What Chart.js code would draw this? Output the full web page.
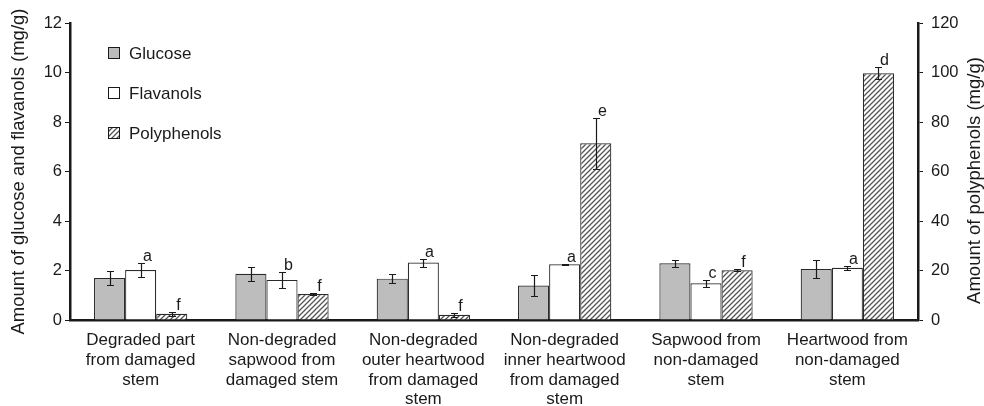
<!DOCTYPE html>
<html lang="en">
<head>
  <meta charset="UTF-8">
  <title>Glucose, flavanols and polyphenols</title>
  <script src="https://cdn.jsdelivr.net/npm/chart.js"></script>
  <style>
    body { margin: 0; background: #fff; }
    #wrap { width: 984px; height: 406px; }
  </style>
</head>
<body>
  <div id="wrap"><canvas id="chart"></canvas></div>

  <script>
    const categories = [
      ['Degraded part', 'from damaged', 'stem'],
      ['Non-degraded', 'sapwood from', 'damaged stem'],
      ['Non-degraded', 'outer heartwood', 'from damaged', 'stem'],
      ['Non-degraded', 'inner heartwood', 'from damaged', 'stem'],
      ['Sapwood from', 'non-damaged', 'stem'],
      ['Heartwood from', 'non-damaged', 'stem']
    ];
    const glucose = [1.70, 1.87, 1.67, 1.39, 2.29, 2.06];
    const glucoseErr = [0.28, 0.28, 0.18, 0.41, 0.13, 0.36];
    const flavanols = [2.02, 1.62, 2.32, 2.25, 1.48, 2.11];
    const flavanolsErr = [0.27, 0.32, 0.16, 0.03, 0.13, 0.07];
    const polyphenols = [2.5, 10.5, 2.1, 71.4, 20.1, 99.7];
    const polyphenolsErr = [0.8, 0.5, 0.8, 10.2, 0.5, 2.5];
    const flavanolsLetters = ['a', 'b', 'a', 'a', 'c', 'a'];
    const polyphenolsLetters = ['f', 'f', 'f', 'e', 'f', 'd'];
    const leftTicks = [0, 2, 4, 6, 8, 10, 12];
    const rightTicks = [0, 20, 40, 60, 80, 100, 120];
    const leftTitle = 'Amount of glucose and flavanols (mg/g)';
    const rightTitle = 'Amount of polyphenols (mg/g)';

    const FONT = '"Liberation Sans", Arial, Helvetica, sans-serif';
    const INK = '#1a1a1a';

    function hatch() {
      const c = document.createElement('canvas');
      c.width = 5; c.height = 5;
      const g = c.getContext('2d');
      g.fillStyle = '#fff';
      g.fillRect(0, 0, 5, 5);
      g.strokeStyle = '#555';
      g.lineWidth = 1.3;
      g.beginPath();
      g.moveTo(-1, 6); g.lineTo(6, -1);
      g.moveTo(-1, 1); g.lineTo(1, -1);
      g.moveTo(4, 6); g.lineTo(6, 4);
      g.stroke();
      return g.createPattern(c, 'repeat');
    }
    const hatchFill = hatch();

    const errors = [glucoseErr, flavanolsErr, polyphenolsErr];
    const letters = [null, flavanolsLetters, polyphenolsLetters];

    const errorBars = {
      id: 'errorBars',
      afterDatasetsDraw(chart) {
        const ctx = chart.ctx;
        ctx.save();
        ctx.strokeStyle = INK;
        ctx.lineWidth = 1.2;
        ctx.fillStyle = INK;
        ctx.font = '16px ' + FONT;
        ctx.textAlign = 'center';
        ctx.textBaseline = 'bottom';
        chart.data.datasets.forEach((ds, i) => {
          const meta = chart.getDatasetMeta(i);
          const scale = chart.scales[ds.yAxisID];
          meta.data.forEach((bar, j) => {
            const v = ds.data[j], e = errors[i][j];
            const x = Math.round(bar.x) + 0.5;
            const yTop = Math.round(scale.getPixelForValue(v + e)) + 0.5;
            const yBot = Math.round(scale.getPixelForValue(v - e)) + 0.5;
            ctx.beginPath();
            ctx.moveTo(x, yTop); ctx.lineTo(x, yBot);
            ctx.moveTo(x - 3.5, yTop); ctx.lineTo(x + 3.5, yTop);
            ctx.moveTo(x - 3.5, yBot); ctx.lineTo(x + 3.5, yBot);
            ctx.stroke();
            if (letters[i]) {
              ctx.fillText(letters[i][j], x + 6, yTop + 1);
            }
          });
        });
        ctx.restore();
      }
    };

    const boxLegend = {
      id: 'boxLegend',
      afterDraw(chart) {
        const ctx = chart.ctx;
        ctx.save();
        ctx.font = '17px ' + FONT;
        ctx.textBaseline = 'middle';
        ctx.textAlign = 'left';
        chart.data.datasets.forEach((ds, i) => {
          const y = 53 + i * 40;
          ctx.fillStyle = ds.backgroundColor;
          ctx.fillRect(108.5, y - 5.5, 11, 11);
          ctx.strokeStyle = INK;
          ctx.lineWidth = 1;
          ctx.strokeRect(108.5, y - 5.5, 11, 11);
          ctx.fillStyle = INK;
          ctx.fillText(ds.label, 129, y + 1);
        });
        ctx.restore();
      }
    };

    // both axis titles read bottom-to-top, as in the figure
    const axisTitles = {
      id: 'axisTitles',
      afterDraw(chart) {
        const ctx = chart.ctx;
        const a = chart.chartArea;
        ctx.save();
        ctx.font = '18.5px ' + FONT;
        ctx.fillStyle = INK;
        ctx.textAlign = 'center';
        ctx.textBaseline = 'middle';
        [[19, (a.top + a.bottom) / 2, leftTitle], [975, (a.top + a.bottom) / 2 + 9, rightTitle]].forEach(([x, y, t]) => {
          ctx.save();
          ctx.translate(x, y);
          ctx.rotate(-Math.PI / 2);
          ctx.fillText(t, 0, 0);
          ctx.restore();
        });
        ctx.restore();
      }
    };

    const barStyle = { borderColor: '#2a2a2a', borderWidth: 1.2, borderSkipped: 'bottom',
      categoryPercentage: 0.66, barPercentage: 1.0 };

    new Chart(document.getElementById('chart'), {
      type: 'bar',
      data: {
        labels: categories,
        datasets: [
          Object.assign({ label: 'Glucose', data: glucose, backgroundColor: '#bdbdbd', yAxisID: 'y' }, barStyle),
          Object.assign({ label: 'Flavanols', data: flavanols, backgroundColor: '#ffffff', yAxisID: 'y' }, barStyle),
          Object.assign({ label: 'Polyphenols', data: polyphenols, backgroundColor: hatchFill, yAxisID: 'y2' }, barStyle)
        ]
      },
      options: {
        responsive: true,
        maintainAspectRatio: false,
        animation: false,
        layout: { padding: { top: 23, right: 0, bottom: 0, left: 0 } },
        plugins: { legend: { display: false }, tooltip: { enabled: false } },
        scales: {
          x: {
            grid: { display: false },
            border: { display: true, width: 2.5, color: INK },
            ticks: { color: INK, font: { size: 17, family: FONT, lineHeight: 1.15 }, maxRotation: 0, autoSkip: false, padding: 3 },
            afterFit(s) { s.height = 86; }
          },
          y: {
            position: 'left',
            min: 0, max: 12,
            afterBuildTicks(s) { s.ticks = leftTicks.map(v => ({ value: v })); },
            grid: { display: true, drawOnChartArea: false, drawTicks: true, tickLength: 5, color: INK, tickWidth: 1 },
            border: { display: true, width: 2.5, color: INK },
            ticks: { color: INK, font: { size: 16.5, family: FONT }, padding: 3 },
            afterFit(s) { s.width = 70; }
          },
          y2: {
            position: 'right',
            min: 0, max: 120,
            afterBuildTicks(s) { s.ticks = rightTicks.map(v => ({ value: v })); },
            grid: { display: true, drawOnChartArea: false, drawTicks: true, tickLength: 5, color: INK, tickWidth: 1 },
            border: { display: true, width: 2.5, color: INK },
            ticks: { color: INK, font: { size: 16.5, family: FONT }, padding: 8 },
            afterFit(s) { s.width = 66; }
          }
        }
      },
      plugins: [errorBars, boxLegend, axisTitles]
    });
  </script>
</body>
</html>
